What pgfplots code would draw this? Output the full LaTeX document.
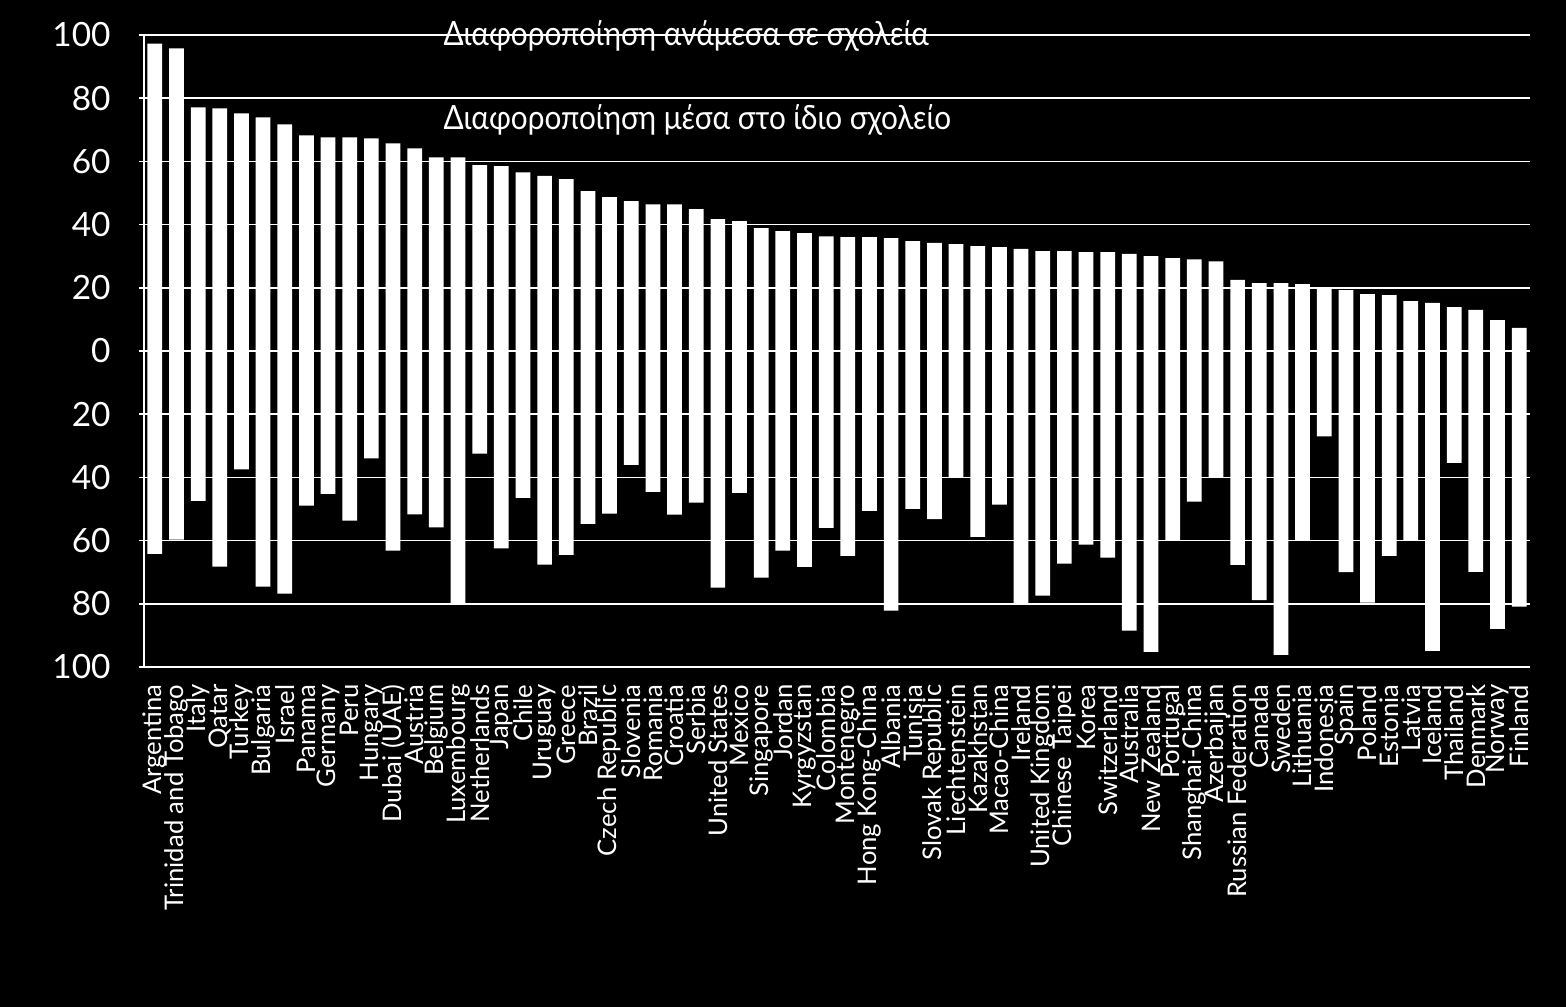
\documentclass[border=0pt]{standalone}
\usepackage{fontspec}
\setmainfont{Lato}
\usepackage{pgfplots}
\pgfplotsset{compat=1.18}
\begin{document}
\begin{tikzpicture}
\fill[black] (0,0) rectangle (156.6mm,100.7mm);
\begin{axis}[
  at={(14.4mm,34.0mm)}, anchor=south west,
  width=138.6mm, height=63.2mm, scale only axis,
  clip=false,
  xmin=0.5, xmax=64.5, ymin=-100, ymax=100,
  axis x line*=bottom, axis y line*=left,
  x axis line style={draw=none,-},
  y axis line style={white, line width=0.45pt,-},
  ytick={-100,-80,...,100},
  yticklabels={100,80,60,40,20,0,20,40,60,80,100},
  ymajorgrids, grid style={white, line width=0.45pt},
  xtick={1,...,64},
  xticklabels={Argentina,Trinidad and Tobago,Italy,Qatar,Turkey,Bulgaria,Israel,Panama,Germany,Peru,Hungary,Dubai (UAE),Austria,Belgium,Luxembourg,Netherlands,Japan,Chile,Uruguay,Greece,Brazil,Czech Republic,Slovenia,Romania,Croatia,Serbia,United States,Mexico,Singapore,Jordan,Kyrgyzstan,Colombia,Montenegro,Hong Kong-China,Albania,Tunisia,Slovak Republic,Liechtenstein,Kazakhstan,Macao-China,Ireland,United Kingdom,Chinese Taipei,Korea,Switzerland,Australia,New Zealand,Portugal,Shanghai-China,Azerbaijan,Russian Federation,Canada,Sweden,Lithuania,Indonesia,Spain,Poland,Estonia,Latvia,Iceland,Thailand,Denmark,Norway,Finland},
  x tick style={draw=none},
  y tick style={white, line width=0.45pt},
  tick align=outside, major tick length=1.5pt,
  tick label style={white},
  yticklabel style={font=\fontsize{9.5}{11}\selectfont},
  yticklabel shift=4.5pt,
  xticklabel style={rotate=90, anchor=east, font=\fontsize{7.3}{8}\selectfont},
  xticklabel shift=0pt,
  /pgf/number format/assume math mode=true,
]
\addplot[ybar, bar width=0.68, bar shift=0pt, fill=white, draw=none] coordinates {
(1,97.3) (2,95.8) (3,77.1) (4,76.8) (5,75.2) (6,73.9) (7,71.7) (8,68.2) (9,67.6) (10,67.6)
(11,67.3) (12,65.7) (13,64.1) (14,61.3) (15,61.3) (16,58.8) (17,58.5) (18,56.5) (19,55.4) (20,54.4)
(21,50.6) (22,48.7) (23,47.4) (24,46.4) (25,46.4) (26,44.9) (27,41.7) (28,41.1) (29,38.9) (30,37.9)
(31,37.3) (32,36.3) (33,36) (34,36) (35,35.7) (36,34.8) (37,34.2) (38,33.8) (39,33.2) (40,32.9)
(41,32.3) (42,31.6) (43,31.6) (44,31.3) (45,31.3) (46,30.7) (47,30) (48,29.4) (49,29) (50,28.4)
(51,22.5) (52,21.5) (53,21.5) (54,21.2) (55,19.9) (56,19.3) (57,18) (58,17.7) (59,15.8) (60,15.2)
(61,13.9) (62,13) (63,9.8) (64,7.3)
};
\addplot[ybar, bar width=0.68, bar shift=0pt, fill=white, draw=none] coordinates {
(1,-64.2) (2,-59.7) (3,-47.4) (4,-68.2) (5,-37.5) (6,-74.6) (7,-76.8) (8,-48.9) (9,-45.2) (10,-53.7)
(11,-34) (12,-63.2) (13,-51.7) (14,-55.8) (15,-79.9) (16,-32.5) (17,-62.5) (18,-46.5) (19,-67.6) (20,-64.5)
(21,-54.7) (22,-51.5) (23,-36) (24,-44.6) (25,-51.8) (26,-48) (27,-74.9) (28,-44.9) (29,-71.7) (30,-63.2)
(31,-68.3) (32,-56) (33,-64.8) (34,-50.6) (35,-82.2) (36,-50) (37,-53.2) (38,-40) (39,-58.8) (40,-48.6)
(41,-80) (42,-77.4) (43,-67.3) (44,-61.3) (45,-65.4) (46,-88.5) (47,-95.2) (48,-60) (49,-47.7) (50,-40)
(51,-67.7) (52,-78.8) (53,-96.2) (54,-60) (55,-27) (56,-70) (57,-79.6) (58,-64.8) (59,-60) (60,-94.9)
(61,-35.4) (62,-69.9) (63,-87.9) (64,-80.9)
};
\node[anchor=base west, white, inner sep=0pt, font=\fontsize{9.5}{11}\selectfont] at (rel axis cs:0.2157,0.984) {\scalebox{0.89}[1]{Διαφοροποίηση ανάμεσα σε σχολεία}};
\node[anchor=base west, white, inner sep=0pt, font=\fontsize{9.5}{11}\selectfont] at (rel axis cs:0.2157,0.85) {\scalebox{0.89}[1]{Διαφοροποίηση μέσα στο ίδιο σχολείο}};
\end{axis}
\pgfresetboundingbox
\path (0,0) rectangle (156.6mm,100.7mm);
\end{tikzpicture}
\end{document}
